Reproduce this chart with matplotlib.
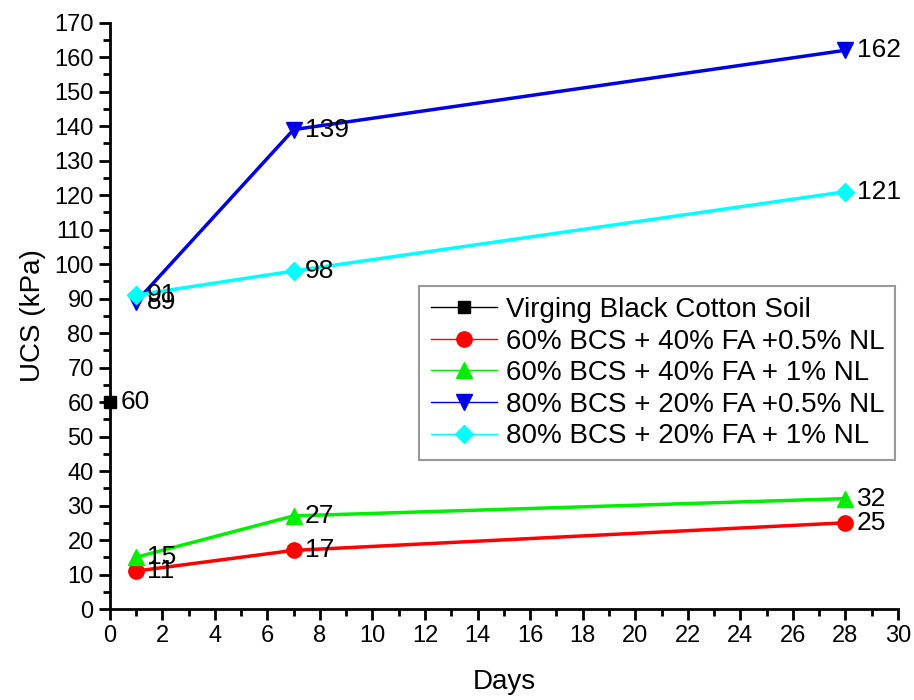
import matplotlib.pyplot as plt
from matplotlib.lines import Line2D
from matplotlib.ticker import MultipleLocator

plt.rcParams['font.family'] = ['Liberation Sans', 'DejaVu Sans']

days = [1, 7, 28]
virgin_days = [0]
virgin_ucs = [60]
bcs60_fa40_nl05 = [11, 17, 25]
bcs60_fa40_nl1 = [15, 27, 32]
bcs80_fa20_nl05 = [89, 139, 162]
bcs80_fa20_nl1 = [91, 98, 121]

labels = ["Virging Black Cotton Soil",
          "60% BCS + 40% FA +0.5% NL",
          "60% BCS + 40% FA + 1% NL",
          "80% BCS + 20% FA +0.5% NL",
          "80% BCS + 20% FA + 1% NL"]

series = [
    (virgin_days, virgin_ucs, 'black', 's', 8),
    (days, bcs60_fa40_nl05, '#ff0000', 'o', 11),
    (days, bcs60_fa40_nl1, '#00ee00', '^', 11),
    (days, bcs80_fa20_nl05, '#0000e6', 'v', 11),
    (days, bcs80_fa20_nl1, '#00ffff', 'D', 9),
]

fig = plt.figure(figsize=(9.14, 7), dpi=100)
ax = fig.add_axes([0.12, 0.13, 0.8625, 0.8376])

handles = []
for (x, y, c, m, ms), lab in zip(series, labels):
    ax.plot(x, y, color=c, lw=2.5, marker=m, markersize=ms, clip_on=False, zorder=3)
    for xi, yi in zip(x, y):
        ax.annotate(str(yi), (xi, yi), xytext=(8, 0), textcoords='offset points',
                    fontsize=19, va='center', ha='left', annotation_clip=False)
    handles.append(Line2D([], [], color=c, lw=1, marker=m, markersize=ms))

ax.set_xlim(0, 30)
ax.set_ylim(0, 170)
ax.xaxis.set_major_locator(MultipleLocator(2))
ax.xaxis.set_minor_locator(MultipleLocator(1))
ax.yaxis.set_major_locator(MultipleLocator(10))
ax.yaxis.set_minor_locator(MultipleLocator(5))
ax.spines['top'].set_visible(False)
ax.spines['right'].set_visible(False)
ax.spines['left'].set_linewidth(2)
ax.spines['bottom'].set_linewidth(2)
ax.tick_params(which='major', direction='out', length=8, width=2, labelsize=17)
ax.tick_params(which='minor', direction='out', length=5, width=2)
ax.set_xlabel("Days", fontsize=20, labelpad=16)
ax.set_ylabel("UCS (kPa)", fontsize=20, labelpad=6)

leg = ax.legend(handles, labels, loc='upper left', bbox_to_anchor=(0.393, 0.551),
                fontsize=20, frameon=True, fancybox=False, edgecolor='gray',
                handlelength=2.4, borderpad=0.4, labelspacing=0.2, handletextpad=0.3,
                borderaxespad=0)
leg.get_frame().set_linewidth(1.5)

fig.savefig("out.png", dpi=100)
